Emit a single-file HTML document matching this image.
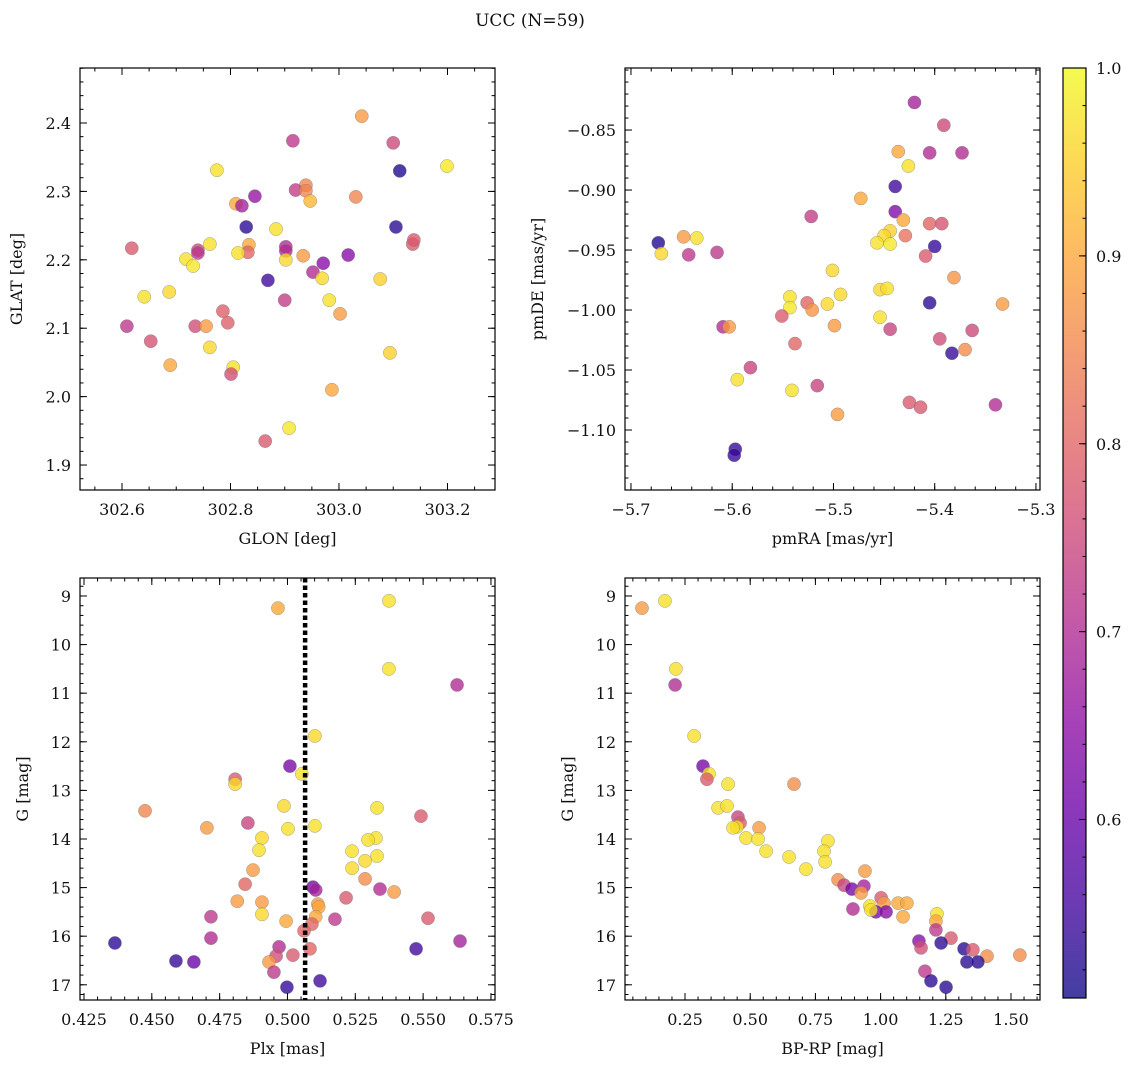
<!DOCTYPE html>
<html><head><meta charset="utf-8">
<style>
html,body{margin:0;padding:0;background:#fff;}
svg text{font-family:"DejaVu Serif","Liberation Serif",serif;fill:#111;}
</style></head>
<body>
<svg id="fig" width="1136" height="1067" viewBox="0 0 1136 1067" xmlns="http://www.w3.org/2000/svg">
<text x="530" y="26" font-size="17" text-anchor="middle">UCC (N=59)</text>
</svg>
<script>
// ---- Panel 1: GLON / GLAT ----
const glon = [303.042,303.100,302.915,303.112,303.199,302.775,302.939,302.920,302.939,302.947,302.845,303.031,302.810,302.821,302.829,302.884,303.105,302.618,302.740,302.740,302.762,302.834,302.832,302.814,302.902,302.902,302.934,303.017,303.136,303.138,302.718,302.731,302.902,302.952,302.971,302.869,302.969,303.076,302.641,302.687,302.982,302.609,302.735,302.755,302.786,302.795,302.900,303.002,302.653,302.762,302.689,302.805,302.801,303.094,302.987,302.864,302.908];
const glat = [2.410,2.371,2.374,2.330,2.337,2.331,2.309,2.302,2.301,2.286,2.293,2.292,2.282,2.279,2.248,2.245,2.248,2.217,2.214,2.210,2.223,2.222,2.211,2.210,2.219,2.213,2.206,2.207,2.223,2.229,2.201,2.191,2.200,2.182,2.195,2.170,2.173,2.172,2.146,2.153,2.141,2.103,2.103,2.103,2.125,2.108,2.141,2.121,2.081,2.072,2.046,2.043,2.033,2.064,2.010,1.935,1.954];
const prob1 = [0.88,0.75,0.72,0.52,0.98,0.97,0.85,0.73,0.85,0.92,0.66,0.85,0.90,0.68,0.53,0.97,0.53,0.78,0.75,0.72,0.97,0.90,0.80,0.97,0.70,0.70,0.88,0.64,0.78,0.78,0.97,0.98,0.96,0.70,0.64,0.55,0.96,0.95,0.97,0.96,0.97,0.72,0.76,0.88,0.79,0.79,0.73,0.88,0.77,0.96,0.90,0.97,0.76,0.95,0.90,0.78,0.98];
// ---- Panel 2: pmRA / pmDE ----
const pmra = [-5.420,-5.391,-5.405,-5.373,-5.436,-5.426,-5.439,-5.473,-5.439,-5.522,-5.431,-5.405,-5.393,-5.444,-5.429,-5.450,-5.457,-5.444,-5.400,-5.673,-5.648,-5.635,-5.670,-5.643,-5.615,-5.409,-5.381,-5.501,-5.454,-5.447,-5.543,-5.493,-5.526,-5.506,-5.333,-5.405,-5.543,-5.521,-5.551,-5.454,-5.499,-5.609,-5.603,-5.444,-5.363,-5.538,-5.395,-5.370,-5.383,-5.582,-5.595,-5.516,-5.541,-5.425,-5.414,-5.340,-5.496,-5.597,-5.598];
const pmde = [-0.827,-0.846,-0.869,-0.869,-0.868,-0.880,-0.897,-0.907,-0.918,-0.922,-0.925,-0.928,-0.928,-0.934,-0.938,-0.938,-0.944,-0.945,-0.947,-0.944,-0.939,-0.940,-0.953,-0.954,-0.952,-0.955,-0.973,-0.967,-0.983,-0.982,-0.989,-0.987,-0.994,-0.995,-0.995,-0.994,-0.998,-1.000,-1.005,-1.006,-1.013,-1.014,-1.014,-1.016,-1.017,-1.028,-1.024,-1.033,-1.036,-1.048,-1.058,-1.063,-1.067,-1.077,-1.081,-1.079,-1.087,-1.116,-1.121];
const prob2 = [0.68,0.75,0.70,0.70,0.90,0.97,0.55,0.90,0.63,0.73,0.90,0.80,0.77,0.95,0.82,0.96,0.97,0.98,0.54,0.52,0.88,0.97,0.96,0.72,0.72,0.78,0.87,0.96,0.96,0.97,0.97,0.96,0.80,0.96,0.88,0.53,0.98,0.87,0.78,0.97,0.88,0.70,0.88,0.74,0.75,0.80,0.76,0.86,0.54,0.74,0.97,0.74,0.97,0.78,0.78,0.70,0.88,0.54,0.54];
// ---- Panel 3: Plx / G ----
const plx = [0.4965,0.5374,0.5374,0.5625,0.5101,0.5009,0.5053,0.4807,0.4807,0.4475,0.4987,0.5330,0.4854,0.5492,0.4703,0.5002,0.5101,0.4906,0.5326,0.5297,0.4895,0.5238,0.5330,0.5286,0.5238,0.4873,0.5286,0.4844,0.5393,0.5341,0.5094,0.5104,0.5216,0.4815,0.4906,0.5112,0.4906,0.5115,0.5104,0.5518,0.4718,0.5175,0.5090,0.4995,0.4718,0.5061,0.4969,0.4364,0.5083,0.5474,0.5636,0.4958,0.5020,0.4932,0.4589,0.4655,0.4950,0.5120,0.4998];
const gmag3 = [9.25,9.10,10.50,10.83,11.88,12.50,12.66,12.77,12.87,13.42,13.32,13.36,13.67,13.53,13.77,13.79,13.73,13.98,13.98,14.02,14.23,14.25,14.35,14.45,14.60,14.64,14.82,14.93,15.09,15.03,14.99,15.05,15.21,15.28,15.30,15.34,15.55,15.40,15.60,15.63,15.60,15.65,15.75,15.69,16.04,15.89,16.22,16.14,16.26,16.26,16.10,16.41,16.39,16.53,16.51,16.53,16.74,16.92,17.05];
const prob3 = [0.90,0.97,0.97,0.70,0.96,0.62,0.97,0.78,0.96,0.85,0.96,0.97,0.74,0.78,0.88,0.97,0.97,0.96,0.97,0.97,0.97,0.97,0.97,0.96,0.96,0.88,0.86,0.80,0.88,0.70,0.62,0.68,0.78,0.88,0.88,0.88,0.96,0.90,0.90,0.78,0.72,0.72,0.80,0.90,0.70,0.80,0.70,0.53,0.80,0.55,0.68,0.76,0.78,0.88,0.54,0.60,0.72,0.55,0.54];
const plxMedian = 0.5065;
// ---- Panel 4: BP-RP / G ----
const bprp = [0.085,0.173,0.215,0.212,0.285,0.319,0.342,0.334,0.668,0.415,0.377,0.411,0.453,0.461,0.449,0.434,0.534,0.484,0.530,0.798,0.561,0.783,0.649,0.787,0.714,0.940,0.837,0.860,0.890,0.936,0.925,1.002,0.959,1.013,1.067,1.101,0.982,1.021,0.963,1.086,1.216,1.212,1.212,1.270,1.147,1.155,1.232,1.320,1.354,1.408,1.534,1.331,1.373,1.170,1.193,1.251,0.894];
const gmag4 = [9.25,9.10,10.50,10.83,11.88,12.50,12.66,12.77,12.87,12.87,13.36,13.32,13.55,13.67,13.75,13.77,13.77,13.98,14.00,14.04,14.25,14.25,14.37,14.47,14.62,14.66,14.84,14.95,15.03,14.97,15.11,15.21,15.38,15.32,15.32,15.32,15.50,15.50,15.46,15.60,15.54,15.69,15.87,16.04,16.10,16.24,16.14,16.26,16.28,16.41,16.39,16.53,16.53,16.72,16.92,17.05,15.44];
const prob4 = [0.88,0.97,0.97,0.70,0.97,0.62,0.97,0.78,0.86,0.97,0.97,0.97,0.74,0.78,0.97,0.97,0.88,0.97,0.97,0.97,0.97,0.97,0.97,0.97,0.97,0.88,0.86,0.74,0.62,0.68,0.88,0.78,0.97,0.88,0.90,0.90,0.62,0.64,0.97,0.90,0.97,0.90,0.72,0.78,0.64,0.76,0.53,0.53,0.78,0.86,0.86,0.53,0.53,0.72,0.53,0.53,0.70];
// colorbar
const cbTicks = [0.6,0.7,0.8,0.9,1.0];

const NS='http://www.w3.org/2000/svg';
const svg=document.getElementById('fig');
function mk(tag,attrs,parent){const e=document.createElementNS(NS,tag);for(const k in attrs)e.setAttribute(k,attrs[k]);(parent||svg).appendChild(e);return e;}
const stops=['#0d0887','#41049d','#6a00a8','#8f0da4','#b12a90','#cc4778','#e16462','#f2844b','#fca636','#fcce25','#f0f921'];
function hex(h){return [parseInt(h.substr(1,2),16),parseInt(h.substr(3,2),16),parseInt(h.substr(5,2),16)];}
const VMIN=0.505,VMAX=1.0;
function plasma(t){t=Math.max(0,Math.min(1,t));const f=t*10,i=Math.min(9,Math.floor(f)),r=f-i;const a=hex(stops[i]),b=hex(stops[i+1]);return 'rgb('+a.map((v,k)=>Math.round(v+(b[k]-v)*r)).join(',')+')';}
function cmap(p){return plasma((p-VMIN)/(VMAX-VMIN));}

function panel(o){
  const g=mk('g',{});
  
  
  const X=v=>o.x0+(v-o.xmin)/(o.xmax-o.xmin)*(o.x1-o.x0);
  const Y=v=>o.inv? o.y0+(v-o.ymin)/(o.ymax-o.ymin)*(o.y1-o.y0) : o.y1-(v-o.ymin)/(o.ymax-o.ymin)*(o.y1-o.y0);
  for(let i=0;i<o.xs.length;i++){
    const c=mk('circle',{cx:X(o.xs[i]),cy:Y(o.ys[i]),r:6.6,fill:cmap(o.ps[i]),'fill-opacity':0.78,stroke:'#777','stroke-width':0.5,'stroke-opacity':0.7},g);
    
    
  }
  if(o.vline!==undefined){
    const l=mk('line',{x1:X(o.vline),x2:X(o.vline),y1:o.y0,y2:o.y1,stroke:'#000','stroke-width':4.5,'stroke-dasharray':'4.5,3'},g);
    
    
  }
  const fr=mk('rect',{x:o.x0,y:o.y0,width:o.x1-o.x0,height:o.y1-o.y0,fill:'none',stroke:'#000','stroke-width':1.2},g);
  
  
  const eps=1e-9;
  function xt(v,len){const x=X(v);if(x<o.x0-0.5||x>o.x1+0.5)return;mk('line',{x1:x,x2:x,y1:o.y1,y2:o.y1-len,stroke:'#000','stroke-width':1},g);mk('line',{x1:x,x2:x,y1:o.y0,y2:o.y0+len,stroke:'#000','stroke-width':1},g);}
  function yt(v,len){const y=Y(v);if(y<o.y0-0.5||y>o.y1+0.5)return;mk('line',{x1:o.x0,x2:o.x0+len,y1:y,y2:y,stroke:'#000','stroke-width':1},g);mk('line',{x1:o.x1,x2:o.x1-len,y1:y,y2:y,stroke:'#000','stroke-width':1},g);}
  const lo=Math.min(o.xmin,o.xmax),hi=Math.max(o.xmin,o.xmax);
  for(let v=Math.ceil(lo/o.xminor-eps)*o.xminor;v<=hi+eps;v+=o.xminor)xt(v,3.5);
  for(const v of o.xticks){xt(v,7);const t=mk('text',{x:X(v),y:o.y1+25,'font-size':16,'text-anchor':'middle'},g);t.textContent=o.xfmt(v);}
  const ylo=Math.min(o.ymin,o.ymax),yhi=Math.max(o.ymin,o.ymax);
  for(let v=Math.ceil(ylo/o.yminor-eps)*o.yminor;v<=yhi+eps;v+=o.yminor)yt(v,3.5);
  for(const v of o.yticks){yt(v,7);const t=mk('text',{x:o.x0-9,y:Y(v)+6,'font-size':16,'text-anchor':'end'},g);t.textContent=o.yfmt(v);}
  const xl=mk('text',{x:(o.x0+o.x1)/2,y:o.y1+54,'font-size':16,'text-anchor':'middle'},g);xl.textContent=o.xlabel;
  
  const yx=o.x0-o.ylabOff,yy=(o.y0+o.y1)/2;
  const yl=mk('text',{x:yx,y:yy,'font-size':16,'text-anchor':'middle',transform:'rotate(-90 '+yx+' '+yy+')'},g);yl.textContent=o.ylabel;
  
}
const f1=v=>v.toFixed(1), f2=v=>v.toFixed(2), f3=v=>v.toFixed(3), fm=v=>(v<0?'\u2212':'')+Math.abs(v).toFixed(2), fi=v=>String(Math.round(v));
panel({name:'glon-glat-panel',x0:80,x1:495,y0:68,y1:490,xmin:302.5226,xmax:303.2876,ymin:1.8635,ymax:2.4804,xs:glon,ys:glat,ps:prob1,xticks:[302.6,302.8,303.0,303.2],xminor:0.05,yticks:[1.9,2.0,2.1,2.2,2.3,2.4],yminor:0.02,xfmt:f1,yfmt:f1,xlabel:'GLON [deg]',ylabel:'GLAT [deg]',ylabOff:58});
panel({name:'pm-panel',x0:625,x1:1040,y0:68,y1:490,xmin:-5.7059,xmax:-5.2960,ymin:-1.15,ymax:-0.7983,xs:pmra,ys:pmde,ps:prob2,xticks:[-5.7,-5.6,-5.5,-5.4,-5.3],xminor:0.02,yticks:[-0.85,-0.9,-0.95,-1.0,-1.05,-1.1],yminor:0.01,xfmt:v=>(v<0?'\u2212':'')+Math.abs(v).toFixed(1),yfmt:fm,xlabel:'pmRA [mas/yr]',ylabel:'pmDE [mas/yr]',ylabOff:82});
panel({name:'plx-g-panel',x0:80,x1:495,y0:578,y1:1000,xmin:0.42353,xmax:0.57649,ymin:8.630,ymax:17.313,inv:true,xs:plx,ys:gmag3,ps:prob3,vline:plxMedian,xticks:[0.425,0.45,0.475,0.5,0.525,0.55,0.575],xminor:0.005,yticks:[9,10,11,12,13,14,15,16,17],yminor:0.2,xfmt:f3,yfmt:fi,xlabel:'Plx [mas]',ylabel:'G [mag]',ylabOff:52});
panel({name:'cmd-panel',x0:625,x1:1040,y0:578,y1:1000,xmin:0.0199,xmax:1.6112,ymin:8.630,ymax:17.313,inv:true,xs:bprp,ys:gmag4,ps:prob4,xticks:[0.25,0.5,0.75,1.0,1.25,1.5],xminor:0.05,yticks:[9,10,11,12,13,14,15,16,17],yminor:0.2,xfmt:f2,yfmt:fi,xlabel:'BP-RP [mag]',ylabel:'G [mag]',ylabOff:52});

const cb=mk('g',{});


const cx0=1063,cx1=1086,cy0=68,cy1=998;
const grad=mk('linearGradient',{id:'cbg',x1:0,y1:1,x2:0,y2:0},mk('defs',{}));
for(let i=0;i<=10;i++){mk('stop',{offset:i/10,'stop-color':plasma(i/10)},grad);}
mk('rect',{x:cx0,y:cy0,width:cx1-cx0,height:cy1-cy0,fill:'url(#cbg)','fill-opacity':0.78},cb);
mk('rect',{x:cx0,y:cy0,width:cx1-cx0,height:cy1-cy0,fill:'none',stroke:'#000','stroke-width':1.2},cb);
const CY=v=>cy1-(v-VMIN)/(VMAX-VMIN)*(cy1-cy0);
for(let v=0.52;v<=1.0001;v+=0.02){const y=CY(v);mk('line',{x1:cx1,x2:cx1-3.5,y1:y,y2:y,stroke:'#000'},cb);}
for(const v of cbTicks){const y=CY(v);mk('line',{x1:cx1,x2:cx1-7,y1:y,y2:y,stroke:'#000'},cb);const t=mk('text',{x:cx1+10,y:y+6,'font-size':16},cb);t.textContent=v.toFixed(1);}
</script>
</body></html>
